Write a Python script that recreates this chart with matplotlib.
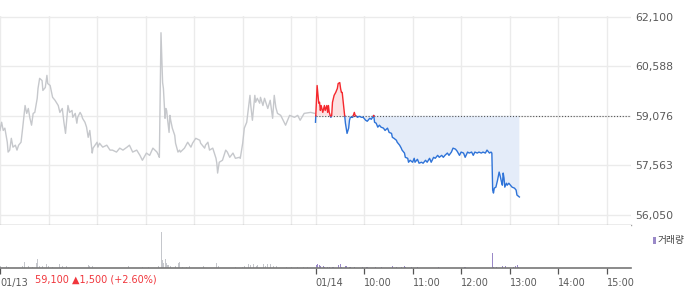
import numpy as np
import matplotlib
matplotlib.use("Agg")
import matplotlib.pyplot as plt
from matplotlib.patches import Rectangle

# ---------------- data ----------------
# previous session (01/13): minutes since 09:00, price
prev_min = [0, 2, 4, 6, 9, 10, 12, 14, 16, 19, 21, 23, 26, 28, 31, 33, 35, 37, 39, 41,
            43, 46, 47, 49, 52, 53, 56, 58, 59, 62, 65, 68, 72, 74, 77, 79, 81, 84, 86, 89,
            90, 93, 95, 96, 99, 101, 102, 105, 107, 109, 111, 114, 115, 120, 121, 123, 127, 132, 136, 139,
            144, 148, 152, 157, 160, 164, 169, 173, 176, 181, 185, 189, 194, 196, 197, 199, 201, 202, 204, 205,
            206, 207, 209, 210, 211, 213, 216, 217, 220, 222, 223, 228, 232, 236, 238, 242, 247, 248, 253, 254,
            257, 259, 263, 267, 268, 269, 271, 275, 279, 281, 284, 288, 291, 296, 297, 300, 302, 305, 309, 310,
            312, 315, 316, 318, 321, 322, 325, 327, 331, 334, 337, 339, 341, 343, 347, 353, 358, 364, 368, 371,
            376, 384, 389]
prev_price = [58630, 58880, 58630, 58700, 58270, 57970, 58030, 58390, 58120, 58180, 58030, 58180, 58270, 58700, 59390, 59150, 59300, 59000, 58790, 59150,
              59180, 59610, 59910, 60220, 60150, 59850, 59940, 60310, 60060, 60000, 59640, 59550, 59390, 59180, 59300, 58880, 58540, 59390, 59180, 59240,
              59030, 59150, 58850, 59030, 59180, 59090, 59000, 58880, 58730, 58420, 58630, 57940, 58090, 58270, 58120, 58240, 58120, 58180, 58030, 58030,
              57970, 58090, 58030, 58120, 58180, 57970, 58030, 57870, 57720, 57940, 57870, 58090, 57970, 57870, 57810, 61610, 60090, 59910, 59000, 59300,
              59240, 59000, 58570, 59090, 58940, 58700, 58480, 58240, 57970, 58030, 57970, 58090, 58270, 58120, 58240, 58390, 58330, 58240, 58090, 58180,
              58270, 58030, 58090, 57780, 57630, 57330, 57660, 57720, 58030, 57970, 57810, 57940, 57780, 57810, 57780, 58240, 58700, 58880, 59700, 59390,
              58940, 59700, 59490, 59610, 59460, 59640, 59390, 59610, 59300, 59550, 59000, 59700, 59330, 59150, 59090, 58790, 59090, 59030, 59090, 58940,
              59150, 59180, 59150]

# current session (01/14): minutes since 09:00, price
today_min = [0, 1, 2, 4, 5, 6, 7, 9, 11, 12, 14, 15, 16, 17, 19, 20, 21, 23, 25, 27,
             28, 30, 31, 32, 33, 35, 36, 37, 38, 39, 41, 42, 43, 46, 48, 49, 52, 54, 57, 59,
             62, 64, 67, 69, 72, 73, 75, 77, 79, 81, 84, 86, 89, 91, 94, 95, 97, 100, 101, 104,
             106, 107, 110, 111, 114, 115, 117, 120, 122, 123, 126, 128, 131, 133, 136, 138, 141, 143, 146, 148,
             151, 153, 156, 158, 160, 163, 165, 168, 170, 173, 175, 178, 180, 183, 185, 188, 190, 193, 195, 197,
             200, 202, 205, 207, 210, 212, 215, 217, 218, 219, 220, 221, 223, 225, 227, 228, 230, 231, 232, 233,
             234, 236, 237, 239, 241, 243, 246, 248, 249, 252]
today_price = [58880, 59460, 60000, 59460, 59490, 59240, 59390, 59180, 59390, 59240, 59390, 59180, 59390, 59180, 59030, 59090, 59490, 59700, 59790, 59910,
               60060, 60090, 59910, 59790, 59790, 59330, 59090, 58850, 58700, 58540, 58700, 58940, 59030, 59030, 59180, 59090, 59030, 59060, 59030, 59030,
               58940, 58910, 59000, 58970, 59090, 58880, 58850, 58730, 58790, 58730, 58700, 58630, 58700, 58570, 58540, 58420, 58390, 58330, 58270, 58180,
               58090, 58030, 57940, 57810, 57780, 57660, 57720, 57660, 57780, 57660, 57750, 57630, 57660, 57630, 57720, 57660, 57780, 57660, 57810, 57780,
               57870, 57810, 57870, 57810, 57870, 57940, 57870, 57970, 58090, 58060, 58000, 57870, 57970, 57940, 57810, 57970, 57940, 57970, 57870, 57970,
               57940, 57970, 57940, 57970, 57940, 58030, 57940, 57970, 57940, 56810, 56720, 56870, 56900, 57110, 57360, 57270, 57050, 56960, 57330, 57180,
               56900, 57020, 56960, 57020, 56960, 56900, 56870, 56810, 56660, 56600]

base_price = 59076

prev_vol_min = [0, 7, 10, 27, 30, 35, 39, 44, 46, 48, 52, 57, 59, 64, 73, 77, 81, 109, 110, 114,
                158, 176, 183, 195, 199, 200, 201, 204, 205, 207, 210, 216, 220, 221, 225, 230, 234, 251, 267, 269,
                291, 299, 302, 306, 309, 313, 316, 318, 325, 327, 330, 334, 337, 341, 354, 360, 367, 374, 379]
prev_vol = [2, 2, 1, 2, 6, 2, 1, 5, 9, 2, 2, 4, 2, 1, 4, 2, 2, 3, 2, 2,
            2, 1, 1, 2, 36, 8, 5, 9, 5, 3, 2, 2, 5, 6, 1, 1, 2, 2, 5, 2,
            1, 1, 2, 4, 3, 4, 2, 3, 4, 2, 4, 4, 2, 2, 1, 1, 1, 1, 1]

today_vol_min = [0, 1, 2, 4, 6, 9, 11, 14, 17, 21, 28, 30, 32, 37, 38, 42, 47, 58, 63, 73,
                 81, 94, 99, 106, 109, 111, 118, 125, 151, 184, 185, 218, 219, 223, 231, 234, 244, 247, 249, 250]
today_vol = [3, 3, 4, 3, 2, 2, 1, 1, 1, 1, 3, 4, 1, 2, 2, 1, 1, 1, 1, 1,
             1, 2, 1, 1, 2, 1, 1, 1, 1, 1, 1, 15, 1, 1, 2, 2, 1, 2, 3, 1]

y_levels = [62100, 60588, 59076, 57563, 56050]
y_labels = ["62,100", "60,588", "59,076", "57,563", "56,050"]

x_ticks = [0, 390, 450, 510, 570, 630, 690, 750]
x_labels = ["01/13", "01/14", "10:00", "11:00", "12:00", "13:00", "14:00", "15:00"]
hour_lines = [0, 60, 120, 180, 240, 300, 360, 390, 450, 510, 570, 630, 690, 750]

quote_text = "59,100 \u25b21,500 (+2.60%)"
legend_text = "거래량"

# ---------------- style ----------------
GRID = "#ebebeb"
GRAY_LINE = "#c6c8cc"
RED = "#f5282d"
BLUE = "#2e73d8"
RED_FILL = "#fde2e2"
BLUE_FILL = "#e4ecf9"
PURPLE = "#9a89c8"
TXT = "#5a5a5a"

W, H = 700, 289
fig = plt.figure(figsize=(W / 100, H / 100), dpi=100)
ax = fig.add_axes([0, (H - 225) / H, 631 / W, (225 - 16) / H])
axv = fig.add_axes([0, (H - 268) / H, 631 / W, (268 - 225) / H])

XMAX = 780
DAY = 390

# grid
for yl in y_levels:
    ax.axhline(yl, color=GRID, lw=1.0, zorder=0)
for xl in hour_lines:
    ax.axvline(xl, color=GRID, lw=1.0, zorder=0)

# previous day line
ax.plot(np.array(prev_min), prev_price, color=GRAY_LINE, lw=1.0, zorder=2)

# today's line with crossing points inserted
tx = np.array(today_min, dtype=float) + DAY
ty = np.array(today_price, dtype=float)
xs, ys = [tx[0]], [ty[0]]
for i in range(1, len(tx)):
    y0, y1 = ty[i - 1], ty[i]
    if (y0 - base_price) * (y1 - base_price) < 0:
        f = (base_price - y0) / (y1 - y0)
        xs.append(tx[i - 1] + f * (tx[i] - tx[i - 1]))
        ys.append(base_price)
    xs.append(tx[i])
    ys.append(y1)
xs = np.array(xs)
ys = np.array(ys)

ax.fill_between(xs, ys, base_price, where=ys >= base_price, color=RED_FILL, lw=0, zorder=1)
ax.fill_between(xs, ys, base_price, where=ys <= base_price, color=BLUE_FILL, lw=0, zorder=1)
ax.hlines(base_price, DAY, XMAX, colors="#555555", linestyles=(0, (1, 1.6)), lw=0.8, zorder=3)
ax.plot(xs, np.where(ys <= base_price, ys, np.nan), color=BLUE, lw=1.0, zorder=4)
ax.plot(xs, np.where(ys >= base_price, ys, np.nan), color=RED, lw=1.0, zorder=4)

ax.set_xlim(0, XMAX)
ax.set_ylim(55746, 62120)
ax.set_xticks([])
ax.set_yticks(y_levels)
ax.set_yticklabels(y_labels)
ax.tick_params(axis="y", left=False, right=False, labelleft=False, labelright=True,
               length=0, pad=3, labelsize=7.8, labelcolor=TXT)
for s in ["top", "left", "right"]:
    ax.spines[s].set_visible(False)
ax.spines["bottom"].set_color("#a0a0a0")
ax.spines["bottom"].set_linewidth(1.0)

# volume
axv.bar(prev_vol_min, prev_vol, width=1.3, color="#c5c7cc", lw=0, align="edge")
axv.bar(np.array(today_vol_min) + DAY, today_vol, width=1.3, color=PURPLE, lw=0, align="edge")
axv.set_xlim(0, XMAX)
axv.set_ylim(0, 43)
axv.set_yticks([])
axv.set_xticks(x_ticks)
axv.set_xticklabels(x_labels)
for lab in axv.get_xticklabels():
    lab.set_horizontalalignment("left")
axv.tick_params(axis="x", direction="out", length=4.5, width=0.9, color="#555555",
                pad=2.5, labelsize=7, labelcolor=TXT)
for s in ["top", "left", "right"]:
    axv.spines[s].set_visible(False)
axv.spines["bottom"].set_color("#777777")
axv.spines["bottom"].set_linewidth(1.2)

# quote text
fig.text(35 / W, (H - 280) / H, quote_text, color="#f0363c", fontsize=7,
         ha="left", va="center", family=["DejaVu Sans"])

# legend
fig.patches.append(Rectangle((653 / W, (H - 244) / H), 3 / W, 7 / H,
                             transform=fig.transFigure, color=PURPLE, lw=0))
fig.text(658 / W, (H - 240.5) / H, legend_text, color="#444444", fontsize=7,
         ha="left", va="center", family=["Noto Sans CJK KR", "DejaVu Sans"])

fig.savefig("out.png", dpi=100, facecolor="white")
